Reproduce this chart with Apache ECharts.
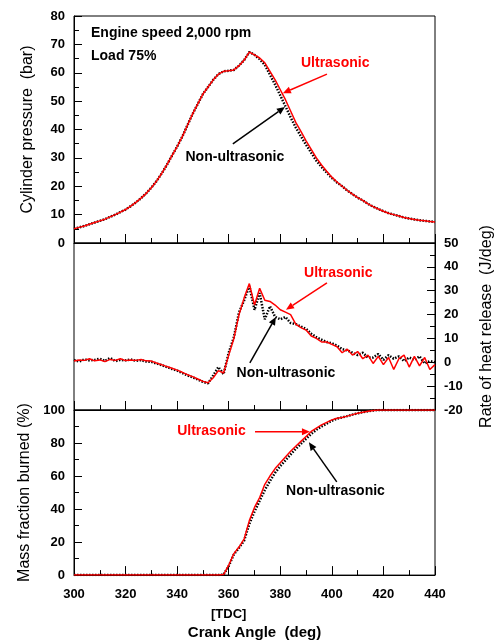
<!DOCTYPE html>
<html>
<head>
<meta charset="utf-8">
<script src="https://cdn.jsdelivr.net/npm/echarts@6/dist/echarts.min.js"></script>
<style>
  html, body { margin: 0; padding: 0; background: #fff; }
  #chart { width: 503px; height: 641px; }
</style>
</head>
<body>
<div id="chart"></div>
<script>
// crank angle (deg), every 2 deg
var crankAngle = [300,302,304,306,308,310,312,314,316,318,320,322,324,326,328,330,332,334,336,338,
  340,342,344,346,348,350,352,354,356,358,360,362,364,366,368,370,372,374,376,378,
  380,382,384,386,388,390,392,394,396,398,400,402,404,406,408,410,412,414,416,418,
  420,422,424,426,428,430,432,434,436,438,440];

// cylinder pressure (bar)
var pressureUltra = [5.0,5.5,6.0,6.6,7.2,7.8,8.4,9.2,10.0,10.9,11.8,13.0,14.3,15.8,17.5,19.5,21.8,24.5,27.5,30.8,
  34.0,37.5,41.5,45.5,49.0,52.5,55.0,57.5,59.5,60.5,60.7,61.0,62.5,64.5,67.3,66.3,65.2,63.5,60.5,57.5,
  54.0,50.5,46.5,42.5,39.3,36.0,33.0,30.0,27.5,25.3,23.2,21.5,20.0,18.5,17.2,16.0,15.0,13.8,12.8,12.0,
  11.2,10.5,10.0,9.5,9.0,8.6,8.3,8.0,7.8,7.6,7.4];
var pressureNon = [5.0,5.5,6.0,6.6,7.2,7.8,8.4,9.2,10.0,10.9,11.8,13.0,14.3,15.8,17.5,19.5,21.8,24.5,27.5,30.8,
  34.0,37.5,41.5,45.5,49.0,52.5,55.0,57.5,59.5,60.5,60.7,61.0,62.5,64.5,67.3,66.3,64.8,62.8,59.3,55.8,
  52.0,48.2,44.3,40.7,37.6,34.6,31.8,29.0,26.8,24.8,22.9,21.3,20.0,18.5,17.2,16.0,15.0,13.8,12.8,12.0,
  11.2,10.5,10.0,9.5,9.0,8.6,8.3,8.0,7.8,7.6,7.4];

// rate of heat release (J/deg)
var hrrUltra = [0.5,1.0,0.8,1.5,0.6,1.0,0.3,1.2,0.8,1.5,0.7,1.0,0.8,1.2,0.6,0.5,-0.3,-1.0,-1.8,-2.5,
  -3.3,-4.2,-5.2,-6.0,-7.0,-8.0,-8.6,-6.5,-3.5,-4.5,3.0,10.0,20.0,27.0,33.0,24.0,31.0,26.0,25.5,24.0,
  22.0,21.0,20.0,16.0,14.5,13.5,11.0,10.0,8.5,8.5,7.5,6.5,4.0,5.5,3.0,4.5,1.5,3.0,-0.5,2.5,
  -1.0,2.0,-3.0,1.5,3.0,-2.0,2.5,-1.5,2.0,-3.0,-1.0];
var hrrNon = [1.0,0.3,1.2,0.8,1.0,1.5,0.6,1.8,0.5,1.0,0.8,1.2,0.6,0.9,0.3,0.2,-0.5,-1.2,-2.0,-2.8,
  -3.5,-4.5,-5.5,-6.3,-7.2,-8.2,-8.8,-5.5,-2.0,-5.0,4.0,10.5,21.0,26.0,32.0,22.0,29.0,18.0,23.5,19.0,
  18.0,19.0,16.5,16.0,15.0,14.0,12.0,10.5,9.5,8.5,8.0,7.0,5.5,5.0,4.0,3.0,4.0,2.0,2.0,3.5,
  1.0,3.0,1.5,2.5,0.5,2.0,1.0,2.5,-0.5,0.5,0.0];

// mass fraction burned (%)
var mfbUltra = [0,0,0,0,0,0,0,0,0,0,0,0,0,0,0,0,0,0,0,0,
  0,0,0,0,0,0,0,0,0,0.3,6,13,17,22,33,41,47,55,60,64.5,
  68,71.5,75,78,81,84,87,89,91,92.5,94,95,95.5,96.3,97.2,98,98.7,99.3,99.7,100,
  100,100,100,100,100,100,100,100,100,100,100];
var mfbNon = [0,0,0,0,0,0,0,0,0,0,0,0,0,0,0,0,0,0,0,0,
  0,0,0,0,0,0,0,0,0,0.3,5.5,12.5,16.5,21,31,38.5,45,51.5,57,62,
  66,69.5,73,76.5,79.5,82.5,85.5,88,90,91.8,93.5,94.8,95.5,96.3,97.2,98,98.7,99.3,99.7,100,
  100,100,100,100,100,100,100,100,100,100,100];

function pairs(ys) {
  return crankAngle.map(function (x, i) { return [x, ys[i]]; });
}

var FONT = '"Liberation Sans", Arial, sans-serif';
var RED = '#ff0000';

function xAxisFor(idx, showLabel) {
  return {
    type: 'value', gridIndex: idx, min: 300, max: 440, interval: 20,
    axisLine: { show: true, onZero: false, lineStyle: { color: '#000', width: 1 } },
    axisTick: { show: true, inside: true, length: 9, lineStyle: { color: '#000' } },
    minorTick: { show: true, splitNumber: 2, length: 5, lineStyle: { color: '#000' } },
    splitLine: { show: false },
    axisLabel: showLabel ? {
      show: true, margin: 9, color: '#000', fontSize: 13, fontWeight: 'bold', fontFamily: FONT,
      lineHeight: 20,
      formatter: function (v) { return v === 360 ? '360\n[TDC]' : String(v); }
    } : { show: false },
    name: showLabel ? 'Crank Angle  (deg)' : '',
    nameLocation: 'middle', nameGap: 45,
    nameTextStyle: { color: '#000', fontSize: 15, fontWeight: 'bold', fontFamily: FONT }
  };
}

function yAxisFor(idx, pos, min, max, interval, name, gap) {
  return {
    type: 'value', gridIndex: idx, position: pos, min: min, max: max, interval: interval,
    axisLine: { show: true, onZero: false, lineStyle: { color: '#000', width: 1 } },
    axisTick: { show: true, inside: true, length: 8, lineStyle: { color: '#000' } },
    minorTick: { show: true, splitNumber: 2, length: 5, lineStyle: { color: '#000' } },
    splitLine: { show: false },
    axisLabel: { margin: 9, color: '#000', fontSize: 13, fontWeight: 'bold', fontFamily: FONT },
    name: name, nameLocation: 'middle', nameGap: gap, nameRotate: 90,
    nameTextStyle: { color: '#000', fontSize: 16, fontFamily: FONT }
  };
}

function blackSeries(x, y, data) {
  return {
    type: 'line', xAxisIndex: x, yAxisIndex: y, data: data, showSymbol: false, smooth: false,
    lineStyle: { color: '#000', width: 2.5, type: [1.5, 1.5] }, z: 2
  };
}
function redSeries(x, y, data) {
  return {
    type: 'line', xAxisIndex: x, yAxisIndex: y, data: data, showSymbol: false, smooth: false,
    lineStyle: { color: RED, width: 1.5 }, z: 3
  };
}

var chart = echarts.init(document.getElementById('chart'));
var gridStyle = { show: true, left: 74, right: 68, borderColor: '#000', borderWidth: 1, backgroundColor: 'transparent' };
chart.setOption({
  backgroundColor: '#fff',
  animation: false,
  grid: [
    Object.assign({ top: 16, height: 227 }, gridStyle),
    Object.assign({ top: 243, height: 167 }, gridStyle),
    Object.assign({ top: 410, height: 168 }, gridStyle)
  ],
  xAxis: [xAxisFor(0, false), xAxisFor(1, false), xAxisFor(2, true)],
  yAxis: [
    yAxisFor(0, 'left', 0, 80, 10, 'Cylinder pressure  (bar)', 38),
    yAxisFor(1, 'right', -20, 50, 10, 'Rate of heat release  (J/deg)', 44),
    yAxisFor(2, 'left', 0, 100, 20, 'Mass fraction burned (%)', 38)
  ],
  series: [
    blackSeries(0, 0, pairs(pressureNon)),
    redSeries(0, 0, pairs(pressureUltra)),
    blackSeries(1, 1, pairs(hrrNon)),
    redSeries(1, 1, pairs(hrrUltra)),
    blackSeries(2, 2, pairs(mfbNon)),
    redSeries(2, 2, pairs(mfbUltra))
  ]
});

// annotations, placed in data coordinates of each panel
var notes = [
  { g: 0, text: 'Engine speed 2,000 rpm', at: [306.6, 73.9], color: '#000', align: 'left' },
  { g: 0, text: 'Load 75%', at: [306.6, 65.8], color: '#000', align: 'left' },
  { g: 0, text: 'Ultrasonic', at: [401.3, 63.4], color: RED },
  { g: 0, text: 'Non-ultrasonic', at: [362.4, 30.3], color: '#000' },
  { g: 1, text: 'Ultrasonic', at: [402.5, 37.4], color: RED },
  { g: 1, text: 'Non-ultrasonic', at: [382.2, -4.4], color: '#000' },
  { g: 2, text: 'Ultrasonic', at: [353.3, 86.9], color: RED },
  { g: 2, text: 'Non-ultrasonic', at: [401.4, 50.6], color: '#000' }
];
var arrows = [
  { g: 0, from: [398.1, 59.5], to: [381.0, 52.8], color: RED },
  { g: 0, from: [361.6, 34.9], to: [381.8, 47.9], color: '#000' },
  { g: 1, from: [398.1, 33.3], to: [382.2, 22.0], color: RED },
  { g: 1, from: [368.2, -0.2], to: [378.3, 19.0], color: '#000' },
  { g: 2, from: [370.2, 86.9], to: [391.5, 86.9], color: RED },
  { g: 2, from: [401.9, 56.5], to: [391.1, 80.4], color: '#000' }
];

var elements = [];
notes.forEach(function (n) {
  var p = chart.convertToPixel({ gridIndex: n.g }, n.at);
  elements.push({
    type: 'text', x: p[0], y: p[1], z: 10,
    style: {
      text: n.text, fill: n.color, font: 'bold 14px ' + FONT,
      align: n.align || 'center', verticalAlign: 'middle'
    }
  });
});
arrows.forEach(function (a) {
  var p0 = chart.convertToPixel({ gridIndex: a.g }, a.from);
  var p1 = chart.convertToPixel({ gridIndex: a.g }, a.to);
  var dx = p1[0] - p0[0], dy = p1[1] - p0[1];
  var len = Math.sqrt(dx * dx + dy * dy);
  var ux = dx / len, uy = dy / len;
  var hl = 8, hw = 3.5;
  var bx = p1[0] - ux * hl, by = p1[1] - uy * hl;
  elements.push({
    type: 'line', z: 10,
    shape: { x1: p0[0], y1: p0[1], x2: bx, y2: by },
    style: { stroke: a.color, lineWidth: 1.5 }
  });
  elements.push({
    type: 'polygon', z: 10,
    shape: { points: [[p1[0], p1[1]], [bx - uy * hw, by + ux * hw], [bx + uy * hw, by - ux * hw]] },
    style: { fill: a.color }
  });
});
chart.setOption({ graphic: elements });
</script>
</body>
</html>
